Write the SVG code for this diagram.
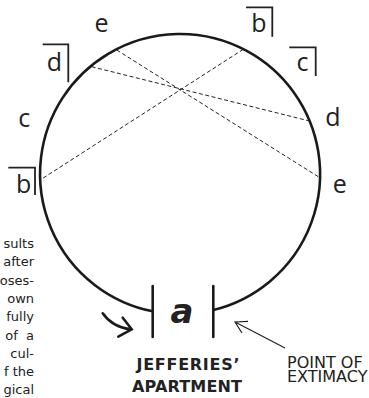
<svg xmlns="http://www.w3.org/2000/svg" width="369" height="398" viewBox="0 0 369 398">
<style>
.lbl{font-family:"Open Sans","DejaVu Sans",sans-serif;font-size:25px;fill:#222;text-anchor:middle}
.neg{stroke:#222;stroke-width:1.8;fill:none}
.para{font-family:"DejaVu Sans",Verdana,sans-serif;font-size:13px;fill:#222;text-anchor:end}
.dash{stroke:#222;stroke-width:1;stroke-dasharray:4 2.5;fill:none}
.thick{stroke:#1a1a1a;stroke-width:2.6;fill:none;stroke-linecap:round}
.cap{font-family:"DejaVu Sans",Verdana,sans-serif;fill:#222}
</style>
<rect width="369" height="398" fill="#fff"/>
<g id="circle">
<path class="thick" d="M152.7,311.3 A140,140 0 1 1 213.3,310" stroke-linecap="butt"/>
</g>
<g id="connectors">
<line class="dash" x1="116.7" y1="50" x2="318.3" y2="176.7"/>
<line class="dash" x1="91.7" y1="66.7" x2="308.3" y2="120.7"/>
<line class="dash" x1="243.3" y1="49.3" x2="41.7" y2="179"/>
<path d="M285,348 L235,322 M248,321.4 L235,322 L242,333" stroke="#222" stroke-width="1.2" fill="none"/>
<path class="thick" d="M102.7,313.3 Q112,327 131,329.5 M122.7,317.7 L131.7,329.3 L118.3,336.7"/>
</g>
<g id="label-e-top"><text class="lbl" x="101.5" y="31.5">e</text></g>
<g id="label-b-top"><text class="lbl" x="259" y="32.3">b</text><path class="neg" d="M246,7.3 H272.3 V36.7"/></g>
<g id="label-c-top"><text class="lbl" x="302.5" y="70.7">c</text><path class="neg" d="M289.3,47.3 H315.7 V76"/></g>
<g id="label-d-top"><text class="lbl" x="54.5" y="70.7">d</text><path class="neg" d="M42.7,44.3 H68.3 V82.3"/></g>
<g id="label-c-left"><text class="lbl" x="24.2" y="126.7">c</text></g>
<g id="label-b-left"><text class="lbl" x="23.7" y="193.3">b</text><path class="neg" d="M8.3,167.7 H35 V195"/></g>
<g id="label-d-right"><text class="lbl" x="333" y="126">d</text></g>
<g id="label-e-right"><text class="lbl" x="339.7" y="192.7">e</text></g>
<g id="apartment">
<line class="thick" x1="152.7" y1="286" x2="152.7" y2="337" stroke-linecap="butt"/>
<line class="thick" x1="213.3" y1="286" x2="213.3" y2="337" stroke-linecap="butt"/>
<text class="cap" x="182" y="323" font-size="34" font-weight="bold" font-style="italic" text-anchor="middle">a</text>
<text class="cap" x="188" y="370" font-size="16" font-weight="bold" text-anchor="middle" textLength="103" lengthAdjust="spacing">JEFFERIES’</text>
<text class="cap" x="187" y="392" font-size="16" font-weight="bold" text-anchor="middle" textLength="110" lengthAdjust="spacing">APARTMENT</text>
</g>
<g id="extimacy">
<text class="cap" x="287" y="367.5" font-size="16">POINT OF</text>
<text class="cap" x="287" y="382" font-size="16">EXTIMACY</text>
</g>
<g id="paragraph">
<text class="para" x="34" y="248">sults</text>
<text class="para" x="34" y="266.3">after</text>
<text class="para" x="34" y="284.6">oses-</text>
<text class="para" x="34" y="302.9">own</text>
<text class="para" x="34" y="321.2">fully</text>
<text class="para" x="34" y="339.5" xml:space="preserve">of  a</text>
<text class="para" x="34" y="357.8">cul-</text>
<text class="para" x="34" y="376.1">f the</text>
<text class="para" x="34" y="394.4">gical</text>
</g>
</svg>
